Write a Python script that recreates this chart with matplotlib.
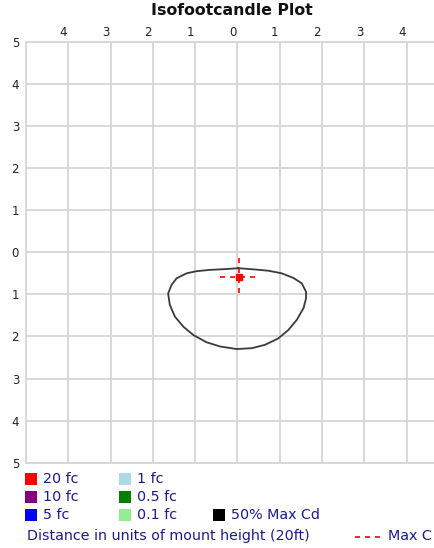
import matplotlib
matplotlib.use('Agg')
import matplotlib.pyplot as plt
import matplotlib.transforms as mtransforms
from matplotlib.patches import Rectangle
from matplotlib.lines import Line2D

# 50% max cd contour, clockwise from top centre (units of mount height)
contour_x = [0.02, 0.41, 0.73, 1.04, 1.32, 1.52, 1.62, 1.62, 1.56, 1.40, 1.20, 0.96,
             0.65, 0.34, -0.02, -0.41, -0.73, -1.04, -1.28, -1.48, -1.60, -1.64,
             -1.56, -1.44, -1.20, -0.96, -0.65, -0.26, 0.02]
contour_y = [-0.38, -0.41, -0.44, -0.50, -0.61, -0.74, -0.94, -1.10, -1.33, -1.61, -1.85, -2.05,
             -2.20, -2.28, -2.30, -2.24, -2.14, -1.97, -1.77, -1.53, -1.25, -0.98,
             -0.78, -0.62, -0.50, -0.45, -0.42, -0.40, -0.38]

max_cd_x = 0.03
max_cd_y = -0.58
cross_half = 0.45

x_ticks = [-4, -3, -2, -1, 0, 1, 2, 3, 4]
y_ticks = [-5, -4, -3, -2, -1, 0, 1, 2, 3, 4, 5]

legend_labels = ['20 fc', '10 fc', '5 fc', '1 fc', '0.5 fc', '0.1 fc', '50% Max Cd']
legend_colors = ['#ff0000', '#800080', '#0000ff', '#add8e6', '#008000', '#90ee90', '#000000']

W, H = 435, 548
text_col = '#1c1c8c'
grid_col = '#d6d6d6'

fig = plt.figure(figsize=(W / 100, H / 100), dpi=100)
ax = fig.add_axes([26 / W, 85.3 / H, 423 / W, 421 / H])
ax.set_xlim(-5, 5)
ax.set_ylim(-5, 5)

ax.set_xticks(x_ticks)
ax.set_xticklabels([str(abs(v)) for v in x_ticks])
ax.set_yticks(y_ticks)
ax.set_yticklabels([str(abs(v)) for v in y_ticks])
ax.xaxis.tick_top()
ax.tick_params(axis='both', length=0, labelsize=8.5, colors='#222222')
ax.tick_params(axis='x', pad=2)
ax.tick_params(axis='y', pad=5)

# shift top labels a bit left like the original
shift = mtransforms.ScaledTranslation(-5 / 100, 0, fig.dpi_scale_trans)
for lab in ax.get_xticklabels():
    lab.set_transform(lab.get_transform() + shift)

ax.grid(True, color=grid_col, linewidth=1.3)
ax.set_axisbelow(True)
for side in ['left', 'top', 'bottom']:
    ax.spines[side].set_color(grid_col)
    ax.spines[side].set_linewidth(1.3)
ax.spines['right'].set_visible(False)

ax.plot(contour_x, contour_y, color='#3a3a3a', linewidth=1.3)

# max candela marker with dashed cross
ax.plot([max_cd_x - cross_half, max_cd_x + cross_half], [max_cd_y, max_cd_y],
        color='#ff0000', linestyle=(0, (3, 3)), linewidth=1.2)
ax.plot([max_cd_x, max_cd_x], [max_cd_y + cross_half, max_cd_y - cross_half],
        color='#ff0000', linestyle=(0, (3, 3)), linewidth=1.2)
ax.plot([max_cd_x], [max_cd_y], marker='s', markersize=5, color='#ff0000')

fig.text(232 / W, 1 - 15 / H, 'Isofootcandle Plot', ha='center', va='baseline',
         fontsize=11.3, fontweight='bold', color='#111111')

# legend
col_x = [25, 119, 213]
row_y = [479, 497, 515]
slots = [(0, 0), (0, 1), (0, 2), (1, 0), (1, 1), (1, 2), (2, 2)]
for (c, r), lab, colr in zip(slots, legend_labels, legend_colors):
    x0 = col_x[c]
    y0 = row_y[r]
    fig.patches.append(Rectangle((x0 / W, 1 - (y0 + 6) / H), 12 / W, 12 / H,
                                 transform=fig.transFigure, facecolor=colr,
                                 edgecolor='none'))
    fig.text((x0 + 18) / W, 1 - y0 / H, lab, ha='left', va='center',
             fontsize=10.3, color=text_col)

fig.text(27 / W, 1 - 536 / H, 'Distance in units of mount height (20ft)',
         ha='left', va='center', fontsize=10.3, color=text_col)
fig.lines.append(Line2D([355 / W, 381 / W], [1 - 537 / H, 1 - 537 / H],
                        transform=fig.transFigure, color='#ff0000',
                        linestyle=(0, (3, 3)), linewidth=1.2))
fig.text(388 / W, 1 - 536 / H, 'Max C', ha='left', va='center',
         fontsize=10.3, color=text_col)

fig.savefig('out.png', dpi=100)
